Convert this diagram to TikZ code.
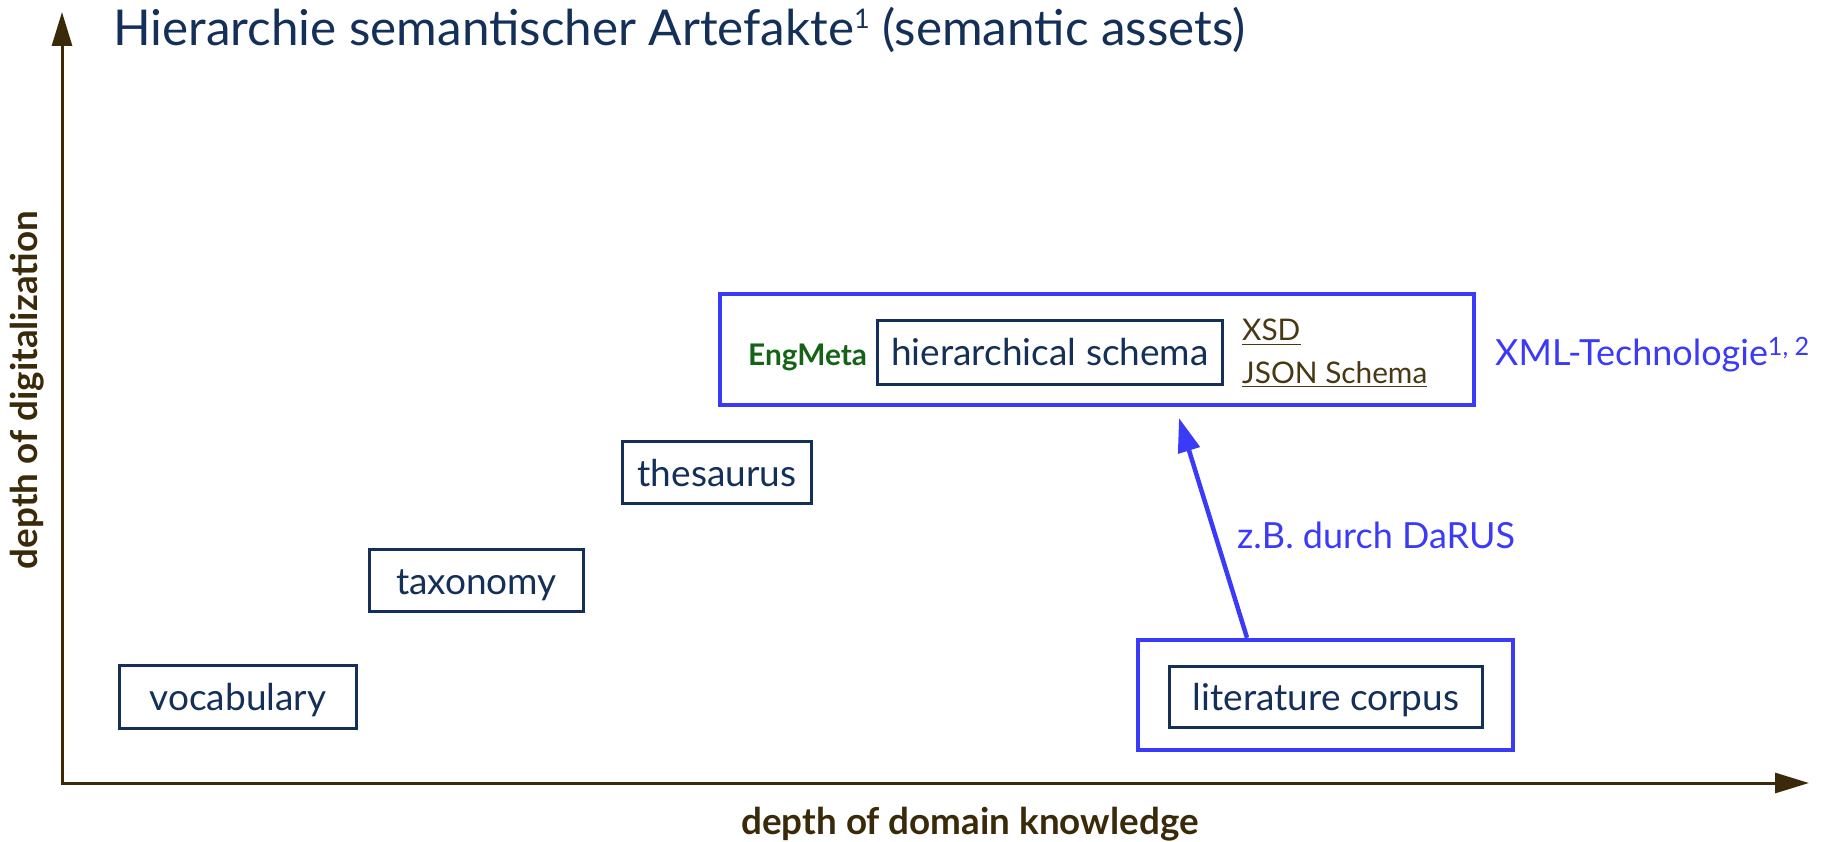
\documentclass[tikz,border=0pt]{standalone}
\usepackage{fontspec}
\setmainfont{Lato}
\usetikzlibrary{arrows.meta}
\definecolor{navy}{RGB}{20,48,88}
\definecolor{axisbrown}{RGB}{58,42,10}
\definecolor{engreen}{RGB}{22,98,22}
\definecolor{formatbrown}{RGB}{72,56,20}
\definecolor{techblue}{RGB}{58,58,248}
\begin{document}
\begin{tikzpicture}[x=1pt,y=-1pt,
  artefact/.style={draw=navy, line width=3.3pt, text=navy, inner sep=0pt,
    text height=27pt, text depth=0pt,
    font=\fontsize{37}{44}\selectfont},
  group/.style={draw=techblue, line width=4.5pt, inner sep=0pt},
  axis/.style={draw=axisbrown, line width=3pt, line join=miter,
    {Triangle[length=34pt,width=20pt]}-{Triangle[length=34pt,width=20pt]}},
  axislabel/.style={text=axisbrown, inner sep=0pt,
    font=\fontsize{36.8}{44}\selectfont\bfseries},
  format/.style={text=formatbrown, inner sep=0pt, anchor=base west,
    font=\fontsize{29.8}{36}\selectfont},
  bluetext/.style={text=techblue, inner sep=0pt, anchor=base west,
    font=\fontsize{36}{43}\selectfont},
  transfer/.style={draw=techblue, line width=4.5pt,
    -{Triangle[length=34pt,width=22pt]}}
]
\useasboundingbox (0,0) rectangle (1826,842);

% title
\node[text=navy, inner sep=0pt, anchor=base west,
  font=\fontsize{49.4}{58}\selectfont] (title) at (113,46)
  {Hierarchie semantischer Artefakte\raisebox{17pt}{\fontsize{27}{30}\selectfont 1} (semantic assets)};

% axes
\coordinate (ytip) at (62,12);
\coordinate (origin) at (62,783);
\coordinate (xtip) at (1809,783);
\draw[axis] (ytip) -- (origin) -- (xtip);
\node[axislabel, rotate=90] (ylabel) at (27,390) {depth of digitalization};
\node[axislabel] (xlabel) at (970,824) {depth of domain knowledge};

% semantic artefacts
\node[artefact, minimum width=237pt, minimum height=63pt] (voc) at (238,697) {vocabulary};
\node[artefact, minimum width=214pt, minimum height=62pt] (tax) at (476.5,580.5) {taxonomy};
\node[artefact, minimum width=189pt, minimum height=62pt] (thes) at (717,472.5) {thesaurus};
\node[artefact, minimum width=345pt, minimum height=64pt] (schema) at (1050,352.5) {hierarchical schema};
\node[artefact, minimum width=313pt, minimum height=61pt] (corpus) at (1326,697) {literature corpus};

% technology groups
\node[group, minimum width=754pt, minimum height=111pt] (xmlgroup) at (1097,349.5) {};
\node[group, minimum width=375pt, minimum height=110pt] (corpusgroup) at (1325.5,695) {};

% annotations inside the schema group
\node[text=engreen, inner sep=0pt, anchor=base west,
  font=\fontsize{29.8}{36}\selectfont\bfseries] (engmeta) at (748,365) {EngMeta};
\node[format] (xsd) at (1242,341) {XSD};
\node[format] (json) at (1242,383) {JSON Schema};
\draw[formatbrown, line width=1.8pt] ([yshift=-3.5pt]xsd.base west) -- ([yshift=-3.5pt]xsd.base east);
\draw[formatbrown, line width=1.8pt] ([yshift=-3.5pt]json.base west) -- ([yshift=-3.5pt]json.base east);

\node[bluetext] (xmltech) at (1495,365) {XML-Technologie\textsuperscript{1, 2}};

% transfer from the corpus to the schema
\coordinate (tip) at (1179,418);
\draw[transfer] ([xshift=-78.5pt]corpusgroup.north) -- (tip);
\node[bluetext] (darus) at (1237,548) {z.B. durch DaRUS};
\end{tikzpicture}
\end{document}
